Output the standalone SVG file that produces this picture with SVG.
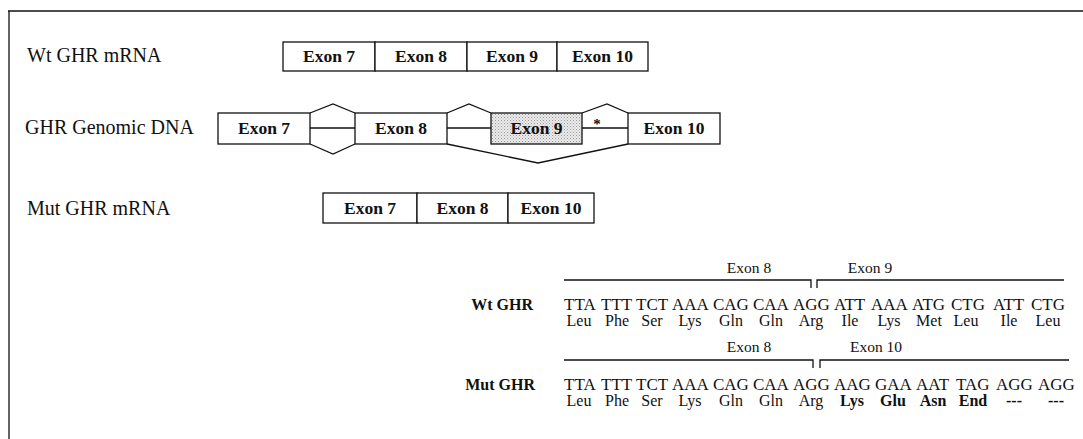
<svg xmlns="http://www.w3.org/2000/svg" width="1083" height="439" viewBox="0 0 1083 439">
<style>
  .lbl { font-family: "Liberation Serif", "Times New Roman", serif; font-size: 20px; fill: #111; }
  .box { fill: #fff; stroke: #111; stroke-width: 1.3; }
  .ex { font-family: "Liberation Serif", "Times New Roman", serif; font-size: 17.5px; font-weight: bold; fill: #111; text-anchor: middle; }
  .ln { fill: none; stroke: #111; stroke-width: 1.3; }
  .seq { font-family: "Liberation Serif", "Times New Roman", serif; font-size: 17px; fill: #111; }
  .aa { font-family: "Liberation Serif", "Times New Roman", serif; font-size: 16px; fill: #111; text-anchor: middle; }
  .b { font-weight: bold; }
  .sl { font-family: "Liberation Serif", "Times New Roman", serif; font-size: 16px; font-weight: bold; fill: #111; text-anchor: end; }
  .el { font-family: "Liberation Serif", "Times New Roman", serif; font-size: 15.5px; fill: #111; text-anchor: middle; }
</style>
<defs>
  <pattern id="stip" width="3" height="3" patternUnits="userSpaceOnUse">
    <rect width="3" height="3" fill="#eaeaea"/>
    <rect x="0" y="0" width="1" height="1" fill="#9a9a9a"/>
    <rect x="1.5" y="1.5" width="1" height="1" fill="#b8b8b8"/>
  </pattern>
</defs>
<rect width="1083" height="439" fill="#fff"/>
<g id="frame">
  <line x1="8" y1="11" x2="1083" y2="11" class="ln"/>
  <line x1="9" y1="11" x2="9" y2="439" class="ln"/>
</g>

<g id="wt-mrna">
  <text class="lbl" x="27" y="62">Wt GHR mRNA</text>
  <rect class="box" x="283" y="42" width="92" height="29"/>
  <rect class="box" x="375" y="42" width="92" height="29"/>
  <rect class="box" x="467" y="42" width="90" height="29"/>
  <rect class="box" x="557" y="42" width="91" height="29"/>
  <text class="ex" x="329" y="62">Exon 7</text>
  <text class="ex" x="421" y="62">Exon 8</text>
  <text class="ex" x="512" y="62">Exon 9</text>
  <text class="ex" x="602.5" y="62">Exon 10</text>
</g>

<g id="genomic-dna">
  <text class="lbl" x="25" y="134">GHR Genomic DNA</text>
  <g id="g-exon7"><rect class="box" x="218" y="113" width="92" height="31"/><text class="ex" x="264" y="134">Exon 7</text></g>
  <g id="g-exon8"><rect class="box" x="355" y="113" width="92" height="31"/><text class="ex" x="401" y="134">Exon 8</text></g>
  <g id="g-exon9"><rect class="box" x="491" y="113" width="91" height="31" style="fill:url(#stip)"/><text class="ex" x="536.5" y="134">Exon 9</text></g>
  <g id="g-exon10"><rect class="box" x="628" y="113" width="92" height="31"/><text class="ex" x="674" y="134">Exon 10</text></g>
  <text x="597" y="129" font-family="Liberation Serif, serif" font-size="15" font-weight="bold" fill="#111" text-anchor="middle">*</text>
</g>

<g id="connectors">
  <line class="ln" x1="310" y1="128" x2="355" y2="128"/>
  <line class="ln" x1="447" y1="128" x2="491" y2="128"/>
  <line class="ln" x1="582" y1="128" x2="628" y2="128"/>
  <polyline class="ln" points="310,113 333,104 355,113"/>
  <polyline class="ln" points="310,144 333,154 355,144"/>
  <polyline class="ln" points="447,113 469,104 491,113"/>
  <polyline class="ln" points="582,113 607,104 628,113"/>
  <polyline class="ln" points="447,144 538,163 628,144"/>
  <polyline class="ln" points="564,280 811,280 811,288"/>
  <polyline class="ln" points="817,288 817,280 1064,280"/>
  <polyline class="ln" points="564,360 813,360 813,368"/>
  <polyline class="ln" points="820,368 820,360 1069,360"/>
</g>

<g id="mut-mrna">
  <text class="lbl" x="27" y="215">Mut GHR mRNA</text>
  <rect class="box" x="323" y="193" width="94" height="30"/>
  <rect class="box" x="417" y="193" width="91" height="30"/>
  <rect class="box" x="508" y="193" width="86" height="30"/>
  <text class="ex" x="370" y="214">Exon 7</text>
  <text class="ex" x="462.5" y="214">Exon 8</text>
  <text class="ex" x="551" y="214">Exon 10</text>
</g>

<g id="wt-seq">
  <text class="el" x="749" y="273">Exon 8</text>
  <text class="el" x="870" y="273">Exon 9</text>
  <text class="sl" x="533" y="310">Wt GHR</text>
  <text class="seq" y="310"><tspan x="564">TTA</tspan><tspan x="601">TTT</tspan><tspan x="636">TCT</tspan><tspan x="672">AAA</tspan><tspan x="713">CAG</tspan><tspan x="753">CAA</tspan><tspan x="793">AGG</tspan><tspan x="834">ATT</tspan><tspan x="871">AAA</tspan><tspan x="912">ATG</tspan><tspan x="951">CTG</tspan><tspan x="993">ATT</tspan><tspan x="1031">CTG</tspan></text>
  <text class="aa" y="326"><tspan x="579">Leu</tspan><tspan x="617">Phe</tspan><tspan x="652">Ser</tspan><tspan x="690">Lys</tspan><tspan x="731">Gln</tspan><tspan x="771">Gln</tspan><tspan x="811">Arg</tspan><tspan x="850">Ile</tspan><tspan x="889">Lys</tspan><tspan x="929">Met</tspan><tspan x="966">Leu</tspan><tspan x="1009">Ile</tspan><tspan x="1048">Leu</tspan></text>
</g>

<g id="mut-seq">
  <text class="el" x="749" y="352">Exon 8</text>
  <text class="el" x="876" y="352">Exon 10</text>
  <text class="sl" x="535" y="390">Mut GHR</text>
  <text class="seq" y="390"><tspan x="564">TTA</tspan><tspan x="601">TTT</tspan><tspan x="636">TCT</tspan><tspan x="672">AAA</tspan><tspan x="713">CAG</tspan><tspan x="753">CAA</tspan><tspan x="793">AGG</tspan><tspan x="834">AAG</tspan><tspan x="875">GAA</tspan><tspan x="916">AAT</tspan><tspan x="956">TAG</tspan><tspan x="996">AGG</tspan><tspan x="1038">AGG</tspan></text>
  <text class="aa" y="406"><tspan x="579">Leu</tspan><tspan x="617">Phe</tspan><tspan x="652">Ser</tspan><tspan x="690">Lys</tspan><tspan x="731">Gln</tspan><tspan x="771">Gln</tspan><tspan x="811">Arg</tspan><tspan class="b" x="852">Lys</tspan><tspan class="b" x="893">Glu</tspan><tspan class="b" x="933">Asn</tspan><tspan class="b" x="973">End</tspan><tspan class="b" x="1014">---</tspan><tspan class="b" x="1056">---</tspan></text>
</g>
</svg>
